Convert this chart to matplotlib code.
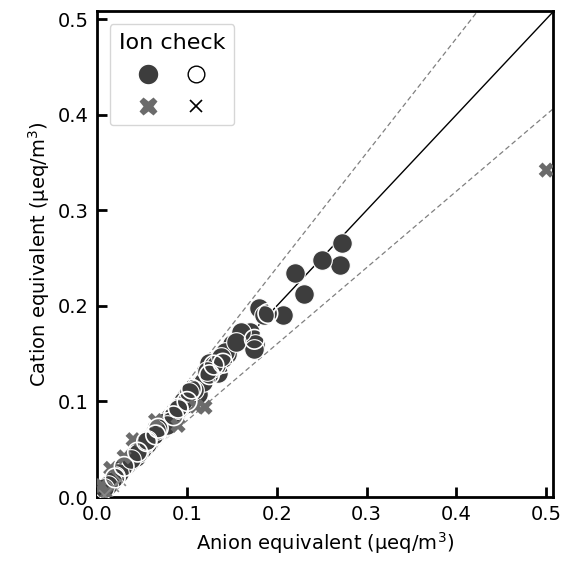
import numpy as np
import matplotlib
matplotlib.use('Agg')
import matplotlib.pyplot as plt
from matplotlib.lines import Line2D

# ion balance check: passed (filled circle), open circle, failed (X)
ok_anion = [0.273, 0.270, 0.250, 0.220, 0.230, 0.207, 0.180, 0.186, 0.170, 0.176,
            0.175, 0.160, 0.150, 0.140, 0.135, 0.128, 0.120, 0.115, 0.110, 0.105,
            0.100, 0.098, 0.092, 0.088, 0.085, 0.080, 0.076, 0.072, 0.068, 0.065,
            0.060, 0.058, 0.055, 0.050, 0.047, 0.043, 0.040, 0.036, 0.032, 0.028,
            0.024, 0.020, 0.016, 0.012, 0.008, 0.125, 0.132, 0.145, 0.112, 0.095,
            0.082, 0.070, 0.062, 0.052, 0.045, 0.038, 0.118, 0.108, 0.142, 0.155,
            0.122, 0.138, 0.102, 0.090, 0.078, 0.066, 0.056]
ok_cation = [0.266, 0.243, 0.248, 0.234, 0.212, 0.190, 0.198, 0.190, 0.173, 0.160,
             0.155, 0.173, 0.160, 0.145, 0.130, 0.135, 0.125, 0.118, 0.115, 0.108,
             0.103, 0.097, 0.095, 0.088, 0.082, 0.083, 0.078, 0.072, 0.068, 0.067,
             0.062, 0.058, 0.055, 0.050, 0.050, 0.042, 0.043, 0.038, 0.033, 0.030,
             0.025, 0.022, 0.017, 0.013, 0.009, 0.140, 0.138, 0.150, 0.108, 0.100,
             0.080, 0.072, 0.064, 0.056, 0.046, 0.040, 0.120, 0.112, 0.152, 0.162,
             0.132, 0.146, 0.110, 0.092, 0.075, 0.070, 0.060]

open_anion = [0.190, 0.175, 0.140, 0.130, 0.125, 0.105, 0.100, 0.090, 0.085, 0.068,
              0.065, 0.055, 0.045, 0.030, 0.020]
open_cation = [0.192, 0.165, 0.140, 0.138, 0.128, 0.113, 0.100, 0.093, 0.085, 0.072,
               0.065, 0.058, 0.047, 0.032, 0.020]

bad_anion = [0.500, 0.120, 0.090, 0.040, 0.015, 0.005, 0.030, 0.065, 0.110, 0.010]
bad_cation = [0.342, 0.094, 0.075, 0.060, 0.030, 0.012, 0.042, 0.080, 0.095, 0.004]

bad_open_anion = [0.008, 0.018, 0.025]
bad_open_cation = [0.002, 0.012, 0.018]

lim = 0.508

fig, ax = plt.subplots(figsize=(5.82, 5.7), dpi=100)
fig.subplots_adjust(left=0.167, right=0.951, top=0.98, bottom=0.128)

xl = np.array([0, lim])
ax.plot(xl, xl, color='black', lw=1.0, zorder=1)
ax.plot(xl, 1.2 * xl, color='grey', lw=0.9, ls=(0, (4, 2.5)), zorder=1)
ax.plot(xl, 0.8 * xl, color='grey', lw=0.9, ls=(0, (4, 2.5)), zorder=1)

ax.scatter(ok_anion, ok_cation, s=200, c='#3d3d3d', edgecolors='white', linewidths=0.8, zorder=3)
ax.scatter(open_anion, open_cation, s=200, facecolors='none', edgecolors='white', linewidths=1.2, zorder=4)
ax.scatter(bad_anion, bad_cation, s=120, marker='X', c='#6b6b6b', edgecolors='none', zorder=3)
ax.scatter(bad_open_anion, bad_open_cation, s=60, marker='x', c='#888888', linewidths=1.2, zorder=3)

ax.set_xlim(0, lim)
ax.set_ylim(0, lim)
ax.set_xticks([0, 0.1, 0.2, 0.3, 0.4, 0.5])
ax.set_yticks([0, 0.1, 0.2, 0.3, 0.4, 0.5])
ax.tick_params(direction='in', length=7, width=2, labelsize=14, pad=6)
for sp in ax.spines.values():
    sp.set_linewidth(2)

ax.set_xlabel('Anion equivalent (μeq/m$^3$)', fontsize=14)
ax.set_ylabel('Cation equivalent (μeq/m$^3$)', fontsize=14)

handles = [
    Line2D([], [], ls='none', marker='o', ms=15, mfc='#3d3d3d', mec='white'),
    Line2D([], [], ls='none', marker='X', ms=13, mfc='#6b6b6b', mec='none'),
    Line2D([], [], ls='none', marker='o', ms=12, mfc='white', mec='black', mew=1.0),
    Line2D([], [], ls='none', marker='x', ms=8, mec='black', mew=1.2),
]
ax.legend(handles, ['', '', '', ''], ncol=2, title='Ion check', title_fontsize=16,
          loc='upper left', handletextpad=0.0, columnspacing=0.7, borderpad=0.5,
          labelspacing=0.75, handlelength=2.0, borderaxespad=0.7, fontsize=13)

fig.savefig('out.png')
